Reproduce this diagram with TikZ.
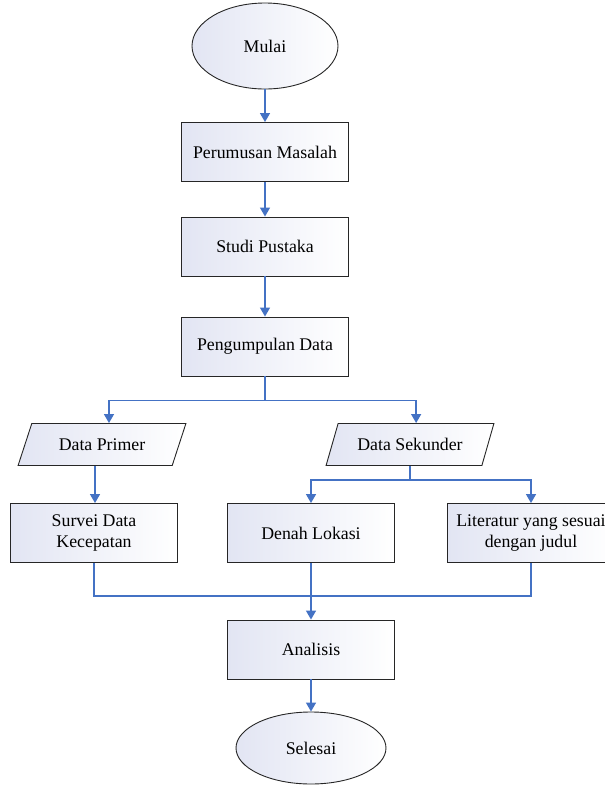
\documentclass[tikz,border=0pt]{standalone}
\usepackage{fontspec}
\setmainfont{Liberation Serif}
\usetikzlibrary{shapes.geometric,arrows.meta,calc}
\definecolor{lineblue}{RGB}{68,114,196}
\definecolor{shadel}{RGB}{226,229,243}
\tikzset{every node/.style={font=\fontsize{17.8}{20.5}\selectfont, align=center, draw=black!85, line width=0.9pt, left color=shadel, right color=white},
  box/.style={rectangle, minimum width=167pt, minimum height=59pt},
  ell/.style={ellipse, inner sep=0pt},
  para/.style={trapezium, trapezium left angle=64, trapezium right angle=116, minimum width=168pt, minimum height=42pt, trapezium stretches=true},
  conn/.style={lineblue, line width=1.4pt},
  >={Triangle[width=10pt,length=9pt]}}

\begin{document}
\begin{tikzpicture}[x=1pt,y=-1pt]
  \useasboundingbox (0,0) rectangle (605,785);
  \node[ell, minimum width=146pt, minimum height=86pt] (m) at (265,46) {Mulai};
  \node[box] (pm) at (265,152)   {Perumusan Masalah};
  \node[box] (sp) at (265,246.5) {Studi Pustaka};
  \node[box] (pd) at (265,346.5) {Pengumpulan Data};
  \node[para] (dp) at (102,444.5) {Data Primer};
  \node[para] (ds) at (410,444.5) {Data Sekunder};
  \node[box] (sv) at (94,533)  {Survei Data\\Kecepatan};
  \node[box] (dl) at (311,533) {Denah Lokasi};
  \node[box] (lt) at (531,533) {Literatur yang sesuai\\dengan judul};
  \node[box] (an) at (311,649.5) {Analisis};
  \node[ell, minimum width=150pt, minimum height=72pt] (se) at (311,748) {Selesai};
  \coordinate (dpt) at ($(dp.top left corner)!.5!(dp.top right corner)$);
  \coordinate (dpb) at ($(dp.bottom left corner)!.5!(dp.bottom right corner)$);
  \coordinate (dst) at ($(ds.top left corner)!.5!(ds.top right corner)$);
  \draw[conn,->] (m) -- (pm);
  \draw[conn,->] (pm) -- (sp);
  \draw[conn,->] (sp) -- (pd);
  \draw[conn,->] (pd.south) -- ++(0,24) -| (dpt);
  \draw[conn,->] (pd.south) -- ++(0,24) -| (dst);
  \draw[conn,->] (dpb) -- (dpb |- sv.north);
  \draw[conn,->] (ds.south) -- ++(0,14) -| (dl.north);
  \draw[conn,->] (ds.south) -- ++(0,14) -| (lt.north);
  \draw[conn] (sv.south) -- ++(0,33) -| (lt.south);
  \draw[conn,->] (dl.south) -- (an.north);
  \draw[conn,->] (an) -- (se);
\end{tikzpicture}
\end{document}
